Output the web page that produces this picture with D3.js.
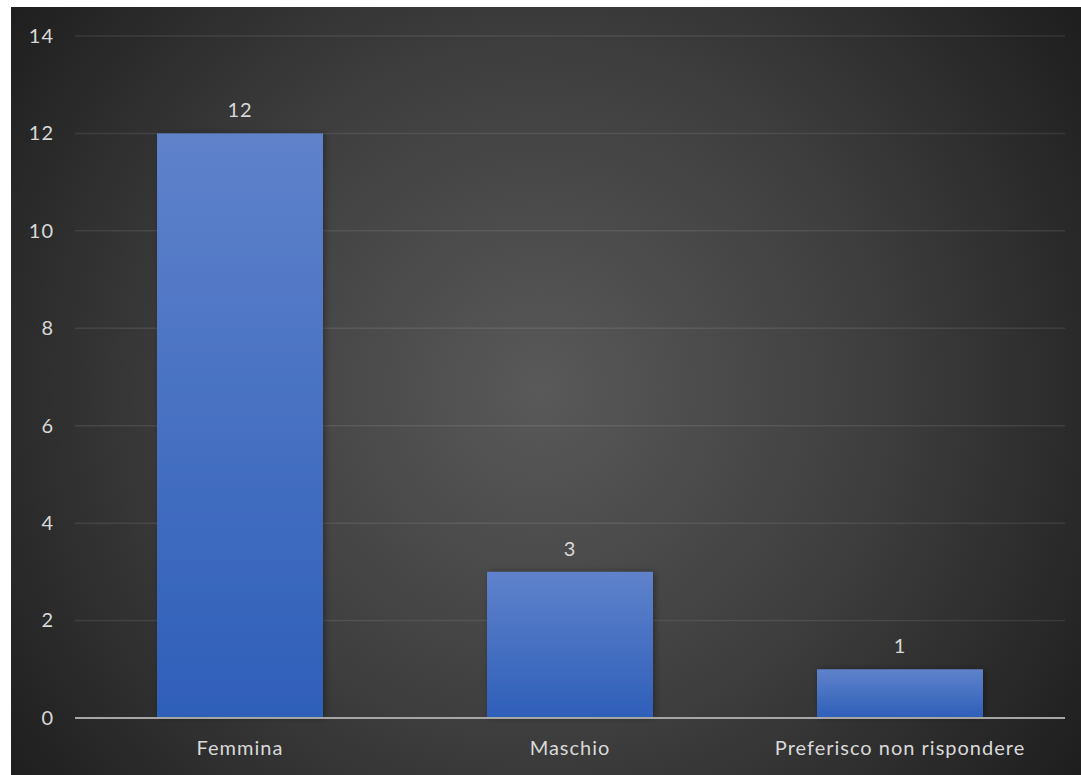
<!DOCTYPE html>
<html><head><meta charset="utf-8">
<script src="https://cdn.jsdelivr.net/npm/d3@7"></script>
<style>body{margin:0;background:#fff;}svg{display:block;}</style>
</head><body>
<svg id="c" width="1081" height="775"></svg>
<script>
const categories = ["Femmina", "Maschio", "Preferisco non rispondere"];
const values = [12, 3, 1];
const yTicks = [0, 2, 4, 6, 8, 10, 12, 14];

const svg = d3.select("#c");
const defs = svg.append("defs");
const rg = defs.append("radialGradient").attr("id","bg")
  .attr("gradientUnits","userSpaceOnUse").attr("cx",540).attr("cy",390).attr("r",680);
rg.append("stop").attr("offset","0").attr("stop-color","#595959");
rg.append("stop").attr("offset","0.5").attr("stop-color","#3e3e3e");
rg.append("stop").attr("offset","1").attr("stop-color","#1c1c1c");
const bg = defs.append("linearGradient").attr("id","bar").attr("x1",0).attr("y1",0).attr("x2",0).attr("y2",1);
bg.append("stop").attr("offset","0").attr("stop-color","#5f82cb");
bg.append("stop").attr("offset","1").attr("stop-color","#2e5fb9");
const f = defs.append("filter").attr("id","sh").attr("x","-10%").attr("y","-10%").attr("width","130%").attr("height","130%");
f.append("feDropShadow").attr("dx",2).attr("dy",0).attr("stdDeviation",3).attr("flood-color","#000").attr("flood-opacity",0.35);

svg.append("rect").attr("x",11).attr("y",7).attr("width",1070).attr("height",768).attr("fill","url(#bg)");

const x = d3.scaleBand().domain(categories).range([75,1065]).paddingInner(0.497).paddingOuter(0.2485);
const y = d3.scaleLinear().domain([0,14]).range([718,36]);
const font = "Lato, 'Open Sans', sans-serif";
const fs = 20, ls = "1px";

// gridlines
svg.append("g").selectAll("line").data(yTicks.filter(d=>d>0)).join("line")
  .attr("x1",75).attr("x2",1065).attr("y1",d=>y(d)).attr("y2",d=>y(d))
  .attr("stroke","#ffffff").attr("stroke-opacity",0.09).attr("stroke-width",1.5);

// y axis labels
const yAxis = svg.append("g").attr("transform","translate(54,0)")
  .call(d3.axisLeft(y).tickValues(yTicks).tickSize(0).tickPadding(0));
yAxis.select(".domain").remove();
yAxis.selectAll("text").attr("font-family",font).attr("font-size",fs).attr("letter-spacing",ls).attr("fill","#d9d9d9").attr("x",0);

// bars
svg.append("g").selectAll("rect").data(values).join("rect")
  .attr("x",(d,i)=>x(categories[i])).attr("width",x.bandwidth())
  .attr("y",d=>y(d)).attr("height",d=>y(0)-y(d))
  .attr("fill","url(#bar)").attr("filter","url(#sh)");

// value labels
svg.append("g").selectAll("text").data(values).join("text")
  .attr("x",(d,i)=>x(categories[i])+x.bandwidth()/2).attr("y",d=>y(d)-16)
  .attr("text-anchor","middle").attr("font-family",font).attr("font-size",fs).attr("letter-spacing",ls).attr("fill","#d9d9d9")
  .text(d=>d);

// x axis
const xAxis = svg.append("g").attr("transform","translate(0,718)")
  .call(d3.axisBottom(x).tickSize(0).tickPadding(23));
xAxis.select(".domain").attr("stroke","#a6a6a6").attr("stroke-width",2).attr("d","M75,0H1065");
xAxis.selectAll("text").attr("font-family",font).attr("font-size",fs).attr("letter-spacing",ls).attr("fill","#d9d9d9");
</script>
</body></html>
